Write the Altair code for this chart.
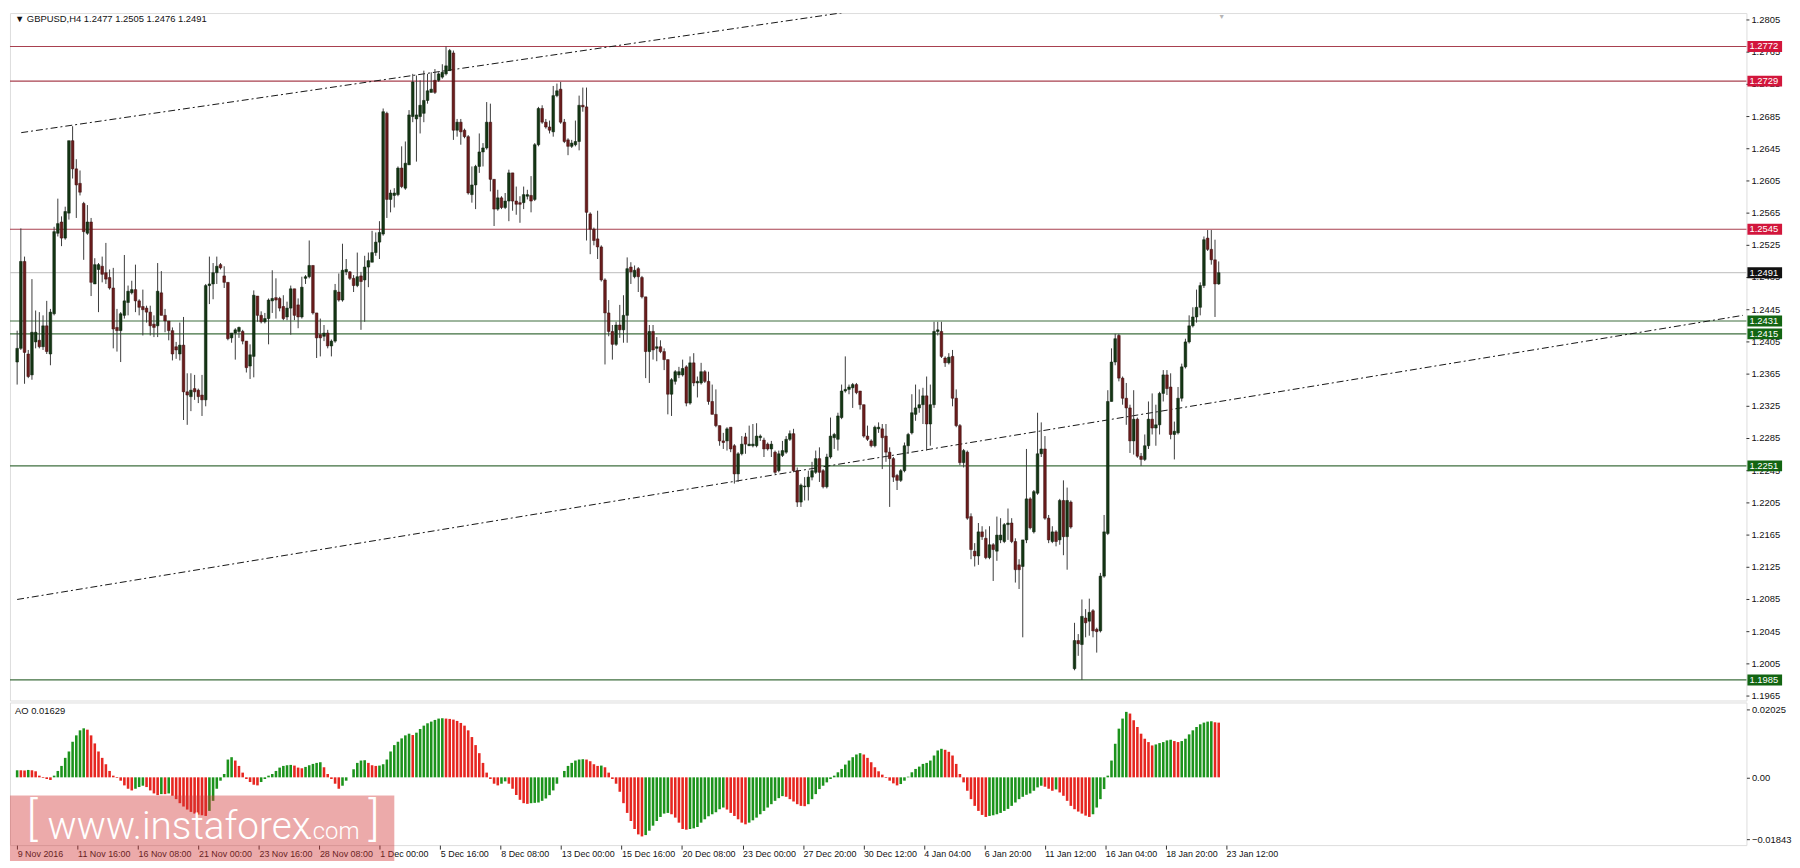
import altair as alt
import pandas as pd

# ---------------- data ----------------
bar_open = [
1.2380,1.2397,1.2505,1.2390,1.2364,1.2405,1.2407,1.2399,1.2425,1.2390,
1.2440,1.2540,1.2554,1.2534,1.2565,1.2655,1.2620,1.2602,1.2577,1.2540,
1.2554,1.2477,1.2495,1.2499,1.2491,1.2485,1.2472,1.2423,1.2419,1.2438,
1.2454,1.2466,1.2470,1.2456,1.2449,1.2447,1.2442,1.2427,1.2425,1.2466,
1.2438,1.2431,1.2419,1.2399,1.2390,1.2401,1.2343,1.2337,1.2347,1.2345,
1.2339,1.2333,1.2475,1.2477,1.2491,1.2501,1.2487,1.2479,1.2410,1.2416,
1.2418,1.2418,1.2406,1.2375,1.2387,1.2462,1.2438,1.2430,1.2434,1.2456,
1.2460,1.2459,1.2449,1.2436,1.2447,1.2471,1.2451,1.2436,1.2484,1.2486,
1.2500,1.2441,1.2414,1.2412,1.2416,1.2400,1.2406,1.2467,1.2457,1.2492,
1.2492,1.2484,1.2475,1.2487,1.2482,1.2498,1.2504,1.2516,1.2529,1.2539,
1.2689,1.2582,1.2587,1.2588,1.2621,1.2596,1.2625,1.2685,1.2682,1.2685,
1.2689,1.2705,1.2715,1.2730,1.2730,1.2734,1.2738,1.2742,1.2764,1.2668,
1.2678,1.2668,1.2660,1.2588,1.2600,1.2623,1.2641,1.2646,1.2678,1.2607,
1.2570,1.2584,1.2572,1.2580,1.2615,1.2580,1.2578,1.2578,1.2586,1.2587,
1.2582,1.2650,1.2695,1.2678,1.2672,1.2666,1.2711,1.2719,1.2678,1.2656,
1.2648,1.2650,1.2654,1.2699,1.2697,1.2564,1.2545,1.2533,1.2523,1.2482,
1.2441,1.2418,1.2402,1.2426,1.2420,1.2438,1.2498,1.2486,1.2496,1.2485,
1.2461,1.2393,1.2418,1.2397,1.2399,1.2393,1.2383,1.2340,1.2356,1.2364,
1.2364,1.2374,1.2329,1.2379,1.2354,1.2354,1.2368,1.2356,1.2331,1.2315,
1.2301,1.2282,1.2282,1.2299,1.2276,1.2241,1.2266,1.2287,1.2276,1.2276,
1.2276,1.2286,1.2283,1.2278,1.2272,1.2268,1.2245,1.2264,1.2268,1.2284,
1.2291,1.2245,1.2206,1.2225,1.2225,1.2237,1.2243,1.2260,1.2245,1.2225,
1.2262,1.2286,1.2284,1.2311,1.2344,1.2346,1.2348,1.2352,1.2344,1.2327,
1.2288,1.2282,1.2276,1.2297,1.2297,1.2288,1.2268,1.2260,1.2239,1.2233,
1.2245,1.2276,1.2292,1.2315,1.2323,1.2327,1.2338,1.2303,1.2327,1.2418,
1.2418,1.2385,1.2379,1.2387,1.2335,1.2301,1.2255,1.2268,1.2188,1.2145,
1.2139,1.2169,1.2161,1.2137,1.2153,1.2145,1.2159,1.2157,1.2178,1.2180,
1.2157,1.2128,1.2126,1.2159,1.2210,1.2169,1.2217,1.2266,1.2272,1.2186,
1.2157,1.2169,1.2159,1.2208,1.2163,1.2206,1.1999,1.2034,1.2029,1.2062,
1.2058,1.2071,1.2048,1.2046,1.2114,1.2167,1.2331,1.2380,1.2413,1.2360,
1.2335,1.2323,1.2282,1.2309,1.2263,1.2259,1.2276,1.2309,1.2298,1.2302,
1.2341,1.2364,1.2349,1.2290,1.2292,1.2335,1.2374,1.2405,1.2425,1.2436,
1.2448,1.2475,1.2534,1.2520,1.2507,1.2477]

bar_high = [
1.2419,1.2546,1.2511,1.2395,1.2483,1.2444,1.2442,1.2438,1.2456,1.2446,
1.2548,1.2583,1.2561,1.2573,1.2655,1.2673,1.2632,1.2618,1.2579,1.2575,
1.2559,1.2509,1.2503,1.2511,1.2528,1.2495,1.2497,1.2446,1.2442,1.2513,
1.2475,1.2481,1.2501,1.2458,1.2470,1.2450,1.2450,1.2438,1.2503,1.2493,
1.2446,1.2431,1.2423,1.2405,1.2429,1.2436,1.2366,1.2366,1.2364,1.2347,
1.2364,1.2477,1.2511,1.2503,1.2511,1.2503,1.2499,1.2479,1.2416,1.2422,
1.2424,1.2420,1.2406,1.2402,1.2469,1.2462,1.2443,1.2441,1.2459,1.2494,
1.2484,1.2461,1.2463,1.2455,1.2475,1.2471,1.2459,1.2486,1.2488,1.2531,
1.2500,1.2441,1.2434,1.2426,1.2420,1.2408,1.2477,1.2490,1.2527,1.2508,
1.2493,1.2488,1.2516,1.2492,1.2512,1.2516,1.2543,1.2541,1.2555,1.2695,
1.2691,1.2594,1.2596,1.2623,1.2648,1.2654,1.2693,1.2738,1.2736,1.2730,
1.2742,1.2738,1.2740,1.2744,1.2740,1.2750,1.2772,1.2769,1.2767,1.2682,
1.2682,1.2670,1.2662,1.2623,1.2625,1.2664,1.2652,1.2703,1.2701,1.2607,
1.2594,1.2586,1.2590,1.2619,1.2615,1.2598,1.2586,1.2598,1.2594,1.2611,
1.2652,1.2697,1.2699,1.2682,1.2680,1.2723,1.2726,1.2728,1.2682,1.2658,
1.2656,1.2680,1.2711,1.2721,1.2721,1.2566,1.2547,1.2568,1.2525,1.2484,
1.2457,1.2426,1.2430,1.2451,1.2463,1.2510,1.2504,1.2500,1.2498,1.2487,
1.2461,1.2426,1.2426,1.2411,1.2407,1.2397,1.2383,1.2360,1.2370,1.2374,
1.2383,1.2376,1.2387,1.2391,1.2362,1.2379,1.2370,1.2368,1.2352,1.2346,
1.2301,1.2292,1.2299,1.2299,1.2278,1.2268,1.2288,1.2292,1.2301,1.2303,
1.2304,1.2290,1.2286,1.2280,1.2282,1.2270,1.2270,1.2282,1.2288,1.2295,
1.2297,1.2249,1.2229,1.2237,1.2245,1.2256,1.2270,1.2274,1.2247,1.2266,
1.2311,1.2292,1.2317,1.2352,1.2387,1.2352,1.2354,1.2354,1.2344,1.2327,
1.2301,1.2284,1.2301,1.2305,1.2303,1.2303,1.2274,1.2262,1.2241,1.2247,
1.2280,1.2292,1.2340,1.2352,1.2346,1.2348,1.2362,1.2352,1.2430,1.2430,
1.2430,1.2387,1.2391,1.2395,1.2346,1.2303,1.2272,1.2270,1.2192,1.2155,
1.2180,1.2176,1.2172,1.2176,1.2155,1.2188,1.2186,1.2180,1.2198,1.2186,
1.2161,1.2135,1.2159,1.2272,1.2212,1.2221,1.2317,1.2305,1.2288,1.2190,
1.2176,1.2171,1.2210,1.2233,1.2224,1.2208,1.2056,1.2042,1.2085,1.2073,
1.2086,1.2073,1.2050,1.2118,1.2190,1.2345,1.2397,1.2415,1.2415,1.2362,
1.2354,1.2327,1.2345,1.2311,1.2267,1.2290,1.2331,1.2341,1.2327,1.2343,
1.2370,1.2370,1.2366,1.2306,1.2349,1.2378,1.2409,1.2438,1.2448,1.2470,
1.2479,1.2536,1.2544,1.2544,1.2532,1.2505]

bar_low = [
1.2352,1.2395,1.2353,1.2360,1.2358,1.2397,1.2397,1.2395,1.2390,1.2376,
1.2438,1.2536,1.2524,1.2532,1.2557,1.2608,1.2559,1.2587,1.2507,1.2538,
1.2462,1.2477,1.2442,1.2479,1.2477,1.2470,1.2397,1.2393,1.2380,1.2434,
1.2438,1.2464,1.2442,1.2438,1.2413,1.2429,1.2413,1.2411,1.2411,1.2438,
1.2417,1.2407,1.2382,1.2384,1.2382,1.2308,1.2302,1.2319,1.2333,1.2329,
1.2313,1.2325,1.2452,1.2458,1.2477,1.2495,1.2472,1.2407,1.2404,1.2383,
1.2410,1.2402,1.2367,1.2359,1.2361,1.2430,1.2428,1.2428,1.2402,1.2441,
1.2434,1.2443,1.2432,1.2432,1.2414,1.2432,1.2422,1.2434,1.2477,1.2484,
1.2439,1.2385,1.2387,1.2406,1.2397,1.2387,1.2404,1.2455,1.2455,1.2488,
1.2482,1.2467,1.2473,1.2420,1.2430,1.2473,1.2504,1.2512,1.2508,1.2537,
1.2559,1.2566,1.2572,1.2586,1.2596,1.2594,1.2625,1.2678,1.2629,1.2664,
1.2678,1.2701,1.2715,1.2713,1.2728,1.2732,1.2736,1.2742,1.2656,1.2660,
1.2650,1.2658,1.2588,1.2578,1.2570,1.2615,1.2623,1.2644,1.2592,1.2549,
1.2568,1.2570,1.2570,1.2555,1.2568,1.2563,1.2553,1.2570,1.2582,1.2566,
1.2580,1.2648,1.2676,1.2670,1.2664,1.2660,1.2709,1.2676,1.2652,1.2637,
1.2646,1.2648,1.2643,1.2691,1.2531,1.2514,1.2525,1.2508,1.2480,1.2377,
1.2412,1.2383,1.2400,1.2410,1.2404,1.2404,1.2477,1.2484,1.2467,1.2459,
1.2360,1.2354,1.2383,1.2381,1.2391,1.2370,1.2315,1.2313,1.2352,1.2360,
1.2362,1.2325,1.2327,1.2350,1.2336,1.2352,1.2354,1.2327,1.2315,1.2299,
1.2276,1.2272,1.2270,1.2268,1.2229,1.2231,1.2264,1.2266,1.2276,1.2274,
1.2274,1.2282,1.2262,1.2270,1.2262,1.2241,1.2243,1.2262,1.2266,1.2282,
1.2243,1.2200,1.2200,1.2208,1.2208,1.2233,1.2241,1.2231,1.2223,1.2223,
1.2260,1.2272,1.2270,1.2309,1.2342,1.2340,1.2323,1.2340,1.2321,1.2286,
1.2282,1.2274,1.2274,1.2292,1.2247,1.2256,1.2200,1.2231,1.2221,1.2231,
1.2243,1.2266,1.2290,1.2307,1.2317,1.2303,1.2270,1.2276,1.2323,1.2413,
1.2385,1.2374,1.2377,1.2325,1.2299,1.2252,1.2249,1.2184,1.2135,1.2126,
1.2128,1.2159,1.2135,1.2135,1.2108,1.2133,1.2155,1.2155,1.2159,1.2155,
1.2106,1.2098,1.2038,1.2155,1.2172,1.2167,1.2215,1.2262,1.2184,1.2155,
1.2155,1.2151,1.2153,1.2140,1.2122,1.2173,1.1997,1.2015,1.1985,1.2038,
1.2040,1.2038,1.2019,1.2044,1.2112,1.2165,1.2331,1.2376,1.2356,1.2327,
1.2302,1.2267,1.2265,1.2261,1.2251,1.2257,1.2272,1.2290,1.2276,1.2290,
1.2331,1.2339,1.2284,1.2259,1.2290,1.2331,1.2372,1.2403,1.2423,1.2429,
1.2438,1.2472,1.2518,1.2501,1.2436,1.2476]

bar_close = [
1.2397,1.2505,1.2392,1.2362,1.2417,1.2417,1.2399,1.2425,1.2393,1.2442,
1.2542,1.2552,1.2534,1.2567,1.2655,1.2620,1.2600,1.2591,1.2542,1.2554,
1.2479,1.2501,1.2501,1.2489,1.2483,1.2472,1.2421,1.2419,1.2440,1.2456,
1.2468,1.2470,1.2456,1.2448,1.2445,1.2442,1.2425,1.2423,1.2468,1.2438,
1.2431,1.2419,1.2390,1.2395,1.2401,1.2343,1.2339,1.2345,1.2343,1.2337,
1.2333,1.2475,1.2477,1.2491,1.2499,1.2497,1.2479,1.2409,1.2416,1.2420,
1.2423,1.2406,1.2373,1.2389,1.2463,1.2438,1.2430,1.2434,1.2457,1.2459,
1.2457,1.2447,1.2434,1.2447,1.2471,1.2438,1.2436,1.2473,1.2486,1.2500,
1.2441,1.2410,1.2410,1.2416,1.2400,1.2406,1.2469,1.2457,1.2494,1.2495,
1.2484,1.2475,1.2486,1.2480,1.2498,1.2506,1.2516,1.2529,1.2541,1.2691,
1.2582,1.2590,1.2590,1.2621,1.2598,1.2627,1.2687,1.2728,1.2687,1.2699,
1.2705,1.2717,1.2719,1.2715,1.2738,1.2740,1.2748,1.2767,1.2668,1.2678,
1.2666,1.2660,1.2590,1.2600,1.2623,1.2641,1.2646,1.2678,1.2607,1.2570,
1.2584,1.2572,1.2580,1.2615,1.2580,1.2576,1.2576,1.2588,1.2588,1.2580,
1.2650,1.2695,1.2678,1.2672,1.2668,1.2711,1.2717,1.2678,1.2654,1.2648,
1.2652,1.2654,1.2699,1.2697,1.2566,1.2545,1.2531,1.2523,1.2482,1.2441,
1.2418,1.2402,1.2426,1.2420,1.2438,1.2496,1.2492,1.2494,1.2486,1.2461,
1.2393,1.2418,1.2395,1.2399,1.2393,1.2383,1.2340,1.2358,1.2368,1.2368,
1.2372,1.2329,1.2379,1.2354,1.2356,1.2368,1.2356,1.2331,1.2315,1.2301,
1.2282,1.2280,1.2297,1.2272,1.2241,1.2266,1.2278,1.2278,1.2278,1.2278,
1.2288,1.2288,1.2272,1.2272,1.2278,1.2243,1.2266,1.2270,1.2284,1.2291,
1.2245,1.2206,1.2227,1.2226,1.2237,1.2245,1.2260,1.2243,1.2225,1.2262,
1.2288,1.2290,1.2313,1.2344,1.2346,1.2349,1.2352,1.2342,1.2327,1.2288,
1.2284,1.2276,1.2299,1.2299,1.2286,1.2268,1.2260,1.2237,1.2233,1.2245,
1.2276,1.2290,1.2317,1.2323,1.2327,1.2338,1.2303,1.2327,1.2418,1.2420,
1.2387,1.2379,1.2386,1.2335,1.2301,1.2255,1.2270,1.2186,1.2147,1.2139,
1.2169,1.2163,1.2137,1.2153,1.2147,1.2165,1.2165,1.2178,1.2180,1.2157,
1.2122,1.2122,1.2159,1.2210,1.2174,1.2219,1.2266,1.2272,1.2186,1.2159,
1.2169,1.2157,1.2208,1.2163,1.2208,1.2175,1.2034,1.2030,1.2064,1.2056,
1.2069,1.2046,1.2045,1.2114,1.2169,1.2331,1.2380,1.2409,1.2360,1.2335,
1.2323,1.2282,1.2309,1.2263,1.2259,1.2276,1.2309,1.2298,1.2302,1.2341,
1.2364,1.2347,1.2290,1.2294,1.2335,1.2374,1.2405,1.2425,1.2436,1.2448,
1.2475,1.2532,1.2520,1.2507,1.2477,1.2491]

# Awesome Oscillator, in units of 0.001
ao_values = [
2.1,2.1,2.0,2.2,2.1,1.8,0.5,-0.2,-0.5,-0.8,
0.5,1.9,3.4,5.8,7.7,10.6,12.5,14.0,14.6,14.2,
12.5,10.1,7.7,5.8,3.9,1.9,0.5,-0.2,-1.0,-2.4,
-3.4,-3.9,-3.4,-2.9,-2.5,-2.9,-3.9,-4.8,-5.3,-5.0,
-5.0,-4.8,-5.5,-6.5,-7.7,-8.7,-9.6,-10.3,-10.8,-11.1,
-11.3,-11.5,-10.0,-7.0,-3.4,-1.0,1.0,5.3,6.0,5.0,
3.4,1.4,-0.5,-1.4,-2.2,-2.4,-1.4,-0.5,0.5,1.0,
1.9,2.9,3.4,3.6,3.7,3.5,2.9,2.7,3.1,3.6,
4.0,4.3,4.5,3.0,1.0,-0.5,-1.9,-3.4,-2.5,-1.0,
0.0,2.4,4.3,5.0,5.1,4.3,3.6,3.4,3.5,3.9,
5.3,7.7,9.6,10.6,11.6,12.5,13.0,12.6,13.3,14.4,
15.4,16.1,16.6,17.1,17.5,17.6,17.5,17.4,17.2,16.8,
16.2,15.4,14.0,12.0,9.6,7.2,4.3,1.4,-0.5,-1.9,
-2.4,-1.9,-1.2,-1.9,-3.4,-5.3,-6.7,-7.7,-7.9,-7.7,
-7.6,-7.5,-7.0,-6.3,-5.3,-3.9,-1.9,0.0,1.9,3.4,
4.3,5.0,5.3,5.4,5.3,4.8,3.9,3.4,3.5,3.0,
1.4,-0.5,-1.9,-4.3,-7.7,-10.6,-13.0,-15.4,-17.0,-17.6,
-17.2,-15.9,-14.4,-13.0,-11.8,-10.8,-10.6,-11.0,-12.0,-13.5,
-15.4,-15.6,-15.4,-15.2,-14.8,-13.5,-12.5,-11.6,-11.0,-10.4,
-9.5,-9.0,-9.6,-10.6,-11.5,-12.5,-13.5,-14.0,-13.5,-12.8,
-12.0,-11.0,-10.0,-9.0,-8.0,-7.0,-6.2,-5.6,-5.8,-6.5,
-7.2,-8.0,-8.5,-8.6,-8.0,-6.5,-5.0,-3.5,-2.5,-1.5,
-0.5,0.5,1.5,2.5,3.8,5.0,6.0,6.8,7.2,6.8,
5.8,4.5,3.0,1.8,0.8,-0.2,-1.0,-1.8,-2.4,-2.0,
-1.0,0.2,1.5,2.5,3.2,4.0,4.3,5.0,6.5,8.0,
8.5,8.2,7.6,6.5,4.0,1.0,-1.5,-4.0,-6.5,-8.5,
-10.0,-11.2,-11.8,-11.5,-11.3,-11.0,-10.6,-10.0,-9.4,-8.5,
-7.5,-6.5,-5.8,-5.2,-4.8,-4.0,-3.0,-2.5,-2.8,-3.4,
-4.0,-3.6,-4.5,-5.5,-7.0,-8.5,-9.5,-10.2,-10.8,-11.4,
-11.8,-11.0,-9.0,-6.5,-3.5,0.5,5.0,10.0,14.5,17.5,
19.5,19.0,17.0,15.0,13.0,11.5,10.5,9.5,9.8,10.2,
10.5,11.0,11.2,10.8,10.5,10.8,11.5,12.8,14.0,15.0,
15.8,16.3,16.6,16.7,16.4,16.29]

level_prices = [1.2772, 1.2729, 1.2545, 1.2431, 1.2415, 1.2251, 1.1985]
level_kinds = ["res", "res", "res", "sup", "sup", "sup", "sup"]

# trend lines: (bar position, price) anchors
trend_names = ["upper", "upper", "lower", "lower"]
trend_pos = [1.1, 233.7, 0.0, 466.8]
trend_price = [1.2665, 1.2821, 1.2085, 1.2438]

price_ticks = [1.2805, 1.2765, 1.2725, 1.2685, 1.2645, 1.2605, 1.2565, 1.2525,
               1.2485, 1.2445, 1.2405, 1.2365, 1.2325, 1.2285, 1.2245, 1.2205,
               1.2165, 1.2125, 1.2085, 1.2045, 1.2005, 1.1965]
ao_ticks = [0.02025, 0.0, -0.01843]

time_labels = ["9 Nov 2016", "11 Nov 16:00", "16 Nov 08:00", "21 Nov 00:00",
               "23 Nov 16:00", "28 Nov 08:00", "1 Dec 00:00", "5 Dec 16:00",
               "8 Dec 08:00", "13 Dec 00:00", "15 Dec 16:00", "20 Dec 08:00",
               "23 Dec 00:00", "27 Dec 20:00", "30 Dec 12:00", "4 Jan 04:00",
               "6 Jan 20:00", "11 Jan 12:00", "16 Jan 04:00", "18 Jan 20:00",
               "23 Jan 12:00"]
LABEL_STEP = 16.35  # bars between time labels

# ---------------- styling ----------------
FONT = "Liberation Sans"
W = 1753
H_MAIN = 694
H_AO = 144
BULL, BEAR = "#143614", "#6a1c1c"
BULL_EDGE, BEAR_EDGE = "#0a1e0a", "#3a0e0e"
WICK = "#3c3c3c"
AO_UP, AO_DOWN = "#1c931c", "#e62620"
RES_LINE, SUP_LINE, CUR_LINE = "#a8404f", "#3f6f3f", "#c9c9c9"
RES_TAG, SUP_TAG, CUR_TAG = "#d2163c", "#126512", "#111111"

n = min(len(bar_open), len(bar_high), len(bar_low), len(bar_close), len(ao_values))

candles = pd.DataFrame({
    "i": list(range(n)),
    "o": bar_open[:n], "h": bar_high[:n], "l": bar_low[:n], "c": bar_close[:n],
})
candles["fill"] = [BULL if c >= o else BEAR for o, c in zip(candles.o, candles.c)]
candles["edge"] = [BULL_EDGE if c >= o else BEAR_EDGE for o, c in zip(candles.o, candles.c)]

ao_df = pd.DataFrame({"i": list(range(n)), "v": [v / 1000.0 for v in ao_values[:n]]})
ao_df["fill"] = [AO_UP] + [AO_UP if ao_values[k] > ao_values[k - 1] else AO_DOWN for k in range(1, n)]

x_scale = alt.Scale(domain=[-0.6, 466.4], nice=False, zero=False)
p_scale = alt.Scale(domain=[1.19595, 1.28136], nice=False, zero=False)
ao_scale = alt.Scale(domain=[-0.02019, 0.0223], nice=False, zero=False)

X = alt.X("i:Q", scale=x_scale, axis=None)

def PY(field):
    return alt.Y(field, scale=p_scale, axis=None)

# horizontal levels
cur_price = bar_close[n - 1]
lv = pd.DataFrame({"p": level_prices + [cur_price],
                   "kind": level_kinds + ["cur"]})
lv["col"] = [{"res": RES_LINE, "sup": SUP_LINE, "cur": CUR_LINE}[k] for k in lv.kind]
lv["tag"] = [{"res": RES_TAG, "sup": SUP_TAG, "cur": CUR_TAG}[k] for k in lv.kind]
lv["label"] = [f"{p:.4f}" for p in lv.p]

rules = alt.Chart(lv).mark_rule(strokeWidth=1.2).encode(
    x=alt.value(0), x2=alt.value(W),
    y=PY("p:Q"),
    color=alt.Color("col:N", scale=None),
)

trend = alt.Chart(pd.DataFrame({"name": trend_names, "i": trend_pos, "p": trend_price})).mark_line(
    clip=True, strokeDash=[7, 3, 2, 3], strokeWidth=1, color="#151515"
).encode(x=X, y=PY("p:Q"), detail="name:N")

wicks = alt.Chart(candles).mark_rule(color=WICK, strokeWidth=1).encode(
    x=X, y=PY("l:Q"), y2="h:Q"
)
bodies = alt.Chart(candles).mark_bar(width=2.7, strokeWidth=0.5).encode(
    x=X, y=PY("o:Q"), y2="c:Q",
    fill=alt.Fill("fill:N", scale=None), stroke=alt.Stroke("edge:N", scale=None),
)

# price scale labels on the right (drawn as marks so the level tags can cover them)
ticks_df = pd.DataFrame({"p": price_ticks, "label": [f"{p:.4f}" for p in price_ticks]})
price_tick_marks = alt.Chart(ticks_df).mark_rule(color="#333", strokeWidth=1).encode(
    x=alt.value(W), x2=alt.value(W + 3), y=PY("p:Q"))
price_tick_text = alt.Chart(ticks_df).mark_text(align="left", baseline="middle", fontSize=9.5,
                                                font=FONT, color="#111").encode(
    x=alt.value(W + 5), y=PY("p:Q"), text="label:N")

last = candles.iloc[n - 1]
title_df = pd.DataFrame({"t": [f"\u25BC GBPUSD,H4  {last.o:.4f} {last.h:.4f} {last.l:.4f} {last.c:.4f}"]})
title = alt.Chart(title_df).mark_text(align="left", baseline="middle", fontSize=9.5,
                                      font=FONT, color="#111").encode(
    x=alt.value(5), y=alt.value(6), text="t:N")

marker = alt.Chart(pd.DataFrame({"i": [n - 1 + 0.8]})).mark_text(
    text="\u25BC", fontSize=7, color="#b5b5b5", baseline="top").encode(x=X, y=alt.value(0))

tag_rect = alt.Chart(lv).transform_calculate(
    y1="datum.p + 0.00068", y2="datum.p - 0.00068"
).mark_rect().encode(
    x=alt.value(W + 1), x2=alt.value(W + 36),
    y=PY("y1:Q"), y2="y2:Q",
    color=alt.Color("tag:N", scale=None),
)
tag_text = alt.Chart(lv).mark_text(align="left", baseline="middle", fontSize=9.5,
                                   font=FONT, color="white").encode(
    x=alt.value(W + 3), y=PY("p:Q"), text="label:N")

main = alt.layer(rules, trend, wicks, bodies, price_tick_marks, price_tick_text,
                 title, marker, tag_rect, tag_text).properties(width=W, height=H_MAIN)

# ---------------- AO panel ----------------
tick_pos = [round(k * LABEL_STEP, 3) for k in range(len(time_labels))]
label_arr = "[" + ",".join("'" + s + "'" for s in time_labels) + "]"
x_axis = alt.Axis(values=tick_pos, labelExpr=f"{label_arr}[round(datum.value / {LABEL_STEP})]",
                  tickSize=4, tickColor="#333", labelAlign="left", labelPadding=1,
                  labelFontSize=9, labelFont=FONT, labelColor="#111", domain=False, grid=False,
                  title=None, labelFlush=False, labelOverlap=False)
ao_axis = alt.Axis(orient="right", values=ao_ticks,
                   labelExpr="datum.value == 0 ? '0.00' : format(datum.value, '.5f')",
                   tickSize=3, tickColor="#333", labelPadding=2, labelFontSize=9.5, labelFont=FONT,
                   labelColor="#111", domain=False, grid=False, title=None,
                   labelFlush=False, labelOverlap=False)

ao_bars = alt.Chart(ao_df).mark_bar(width=2.6).encode(
    x=alt.X("i:Q", scale=x_scale, axis=x_axis),
    y=alt.Y("v:Q", scale=ao_scale, axis=ao_axis),
    y2=alt.datum(0),
    color=alt.Color("fill:N", scale=None),
)
ao_title = alt.Chart(pd.DataFrame({"t": [f"AO {ao_values[n - 1] / 1000:.5f}"]})).mark_text(
    align="left", baseline="middle", fontSize=9.5, font=FONT, color="#111").encode(
    x=alt.value(5), y=alt.value(9), text="t:N")

one = pd.DataFrame({"a": [0]})
wm_box = alt.Chart(one).mark_rect(color="#d23434", opacity=0.42).encode(
    x=alt.value(0), x2=alt.value(388), y=alt.value(94), y2=alt.value(160))
wm_l = alt.Chart(one).mark_text(text="[", font="Roboto", fontWeight=300, fontSize=46,
                                color="white", align="left", baseline="alphabetic").encode(
    x=alt.value(17), y=alt.value(134))
wm_main = alt.Chart(one).mark_text(text="www.instaforex", font="Roboto", fontWeight=300,
                                   fontSize=39, color="white", align="left",
                                   baseline="alphabetic").encode(x=alt.value(38), y=alt.value(138))
wm_com = alt.Chart(one).mark_text(text=".com", font="Roboto", fontWeight=300, fontSize=24,
                                  color="white", align="left", baseline="alphabetic").encode(
    x=alt.value(300), y=alt.value(138))
wm_r = alt.Chart(one).mark_text(text="]", font="Roboto", fontWeight=300, fontSize=46,
                                color="white", align="left", baseline="alphabetic").encode(
    x=alt.value(362), y=alt.value(134))

ao_chart = alt.layer(ao_bars, ao_title, wm_box, wm_l, wm_main, wm_com, wm_r).properties(
    width=W, height=H_AO)

chart = alt.vconcat(main, ao_chart, spacing=2, bounds="flush").properties(
    padding={"left": 0, "top": 0, "right": 0, "bottom": 0}
).configure_view(stroke="#3c3c3c", strokeWidth=1).configure(background="white")

chart.save("out.html", embed_options={"renderer": "svg", "actions": False})
